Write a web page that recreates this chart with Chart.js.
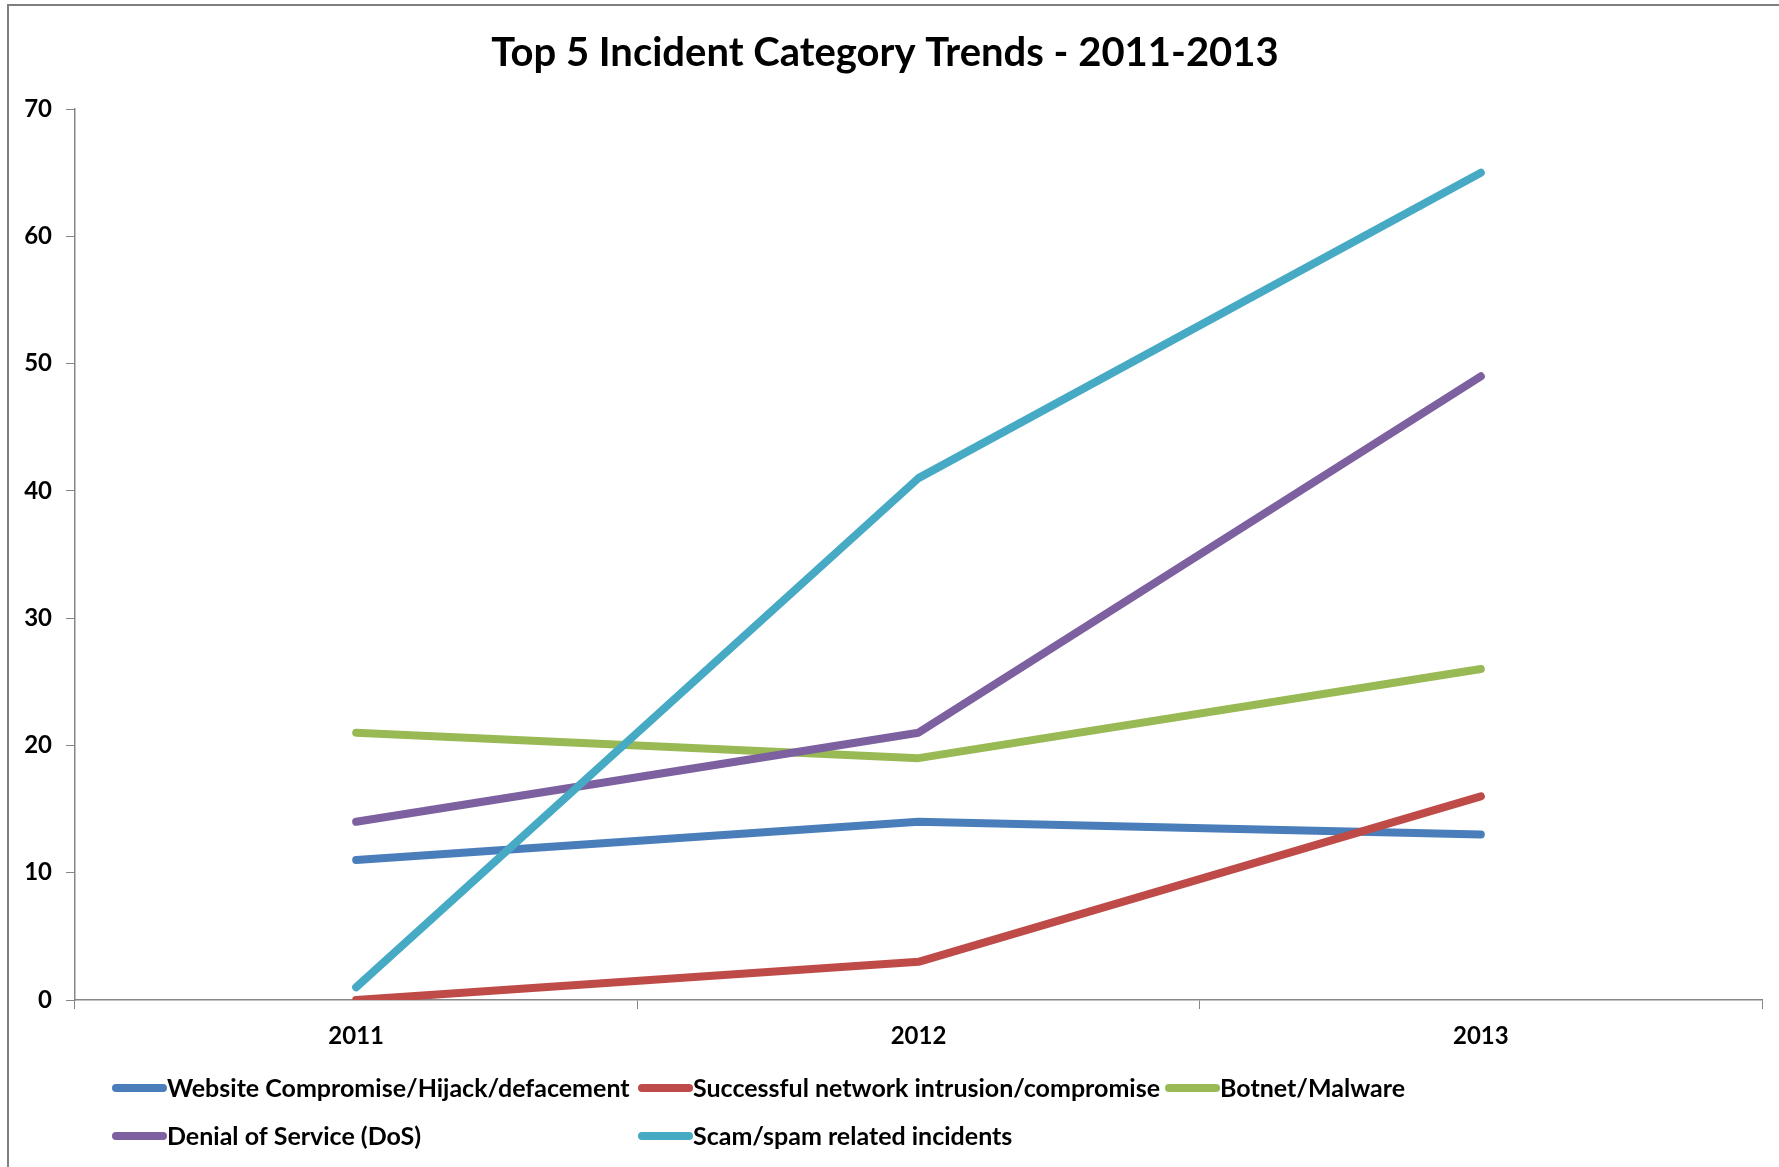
<!DOCTYPE html>
<html>
<head>
<meta charset="utf-8">
<title>Top 5 Incident Category Trends - 2011-2013</title>
<script src="https://cdn.jsdelivr.net/npm/chart.js@4"></script>
<style>
  html, body { margin: 0; padding: 0; background: #fff; }
  #wrap { position: relative; width: 1779px; height: 1167px; }
</style>
</head>
<body>
<div id="wrap"><canvas id="grafico"></canvas></div>
<script>
// dados
const years = ['2011', '2012', '2013'];
const websiteCompromise = [11, 14, 13];
const networkIntrusion = [0, 3, 16];
const botnetMalware = [21, 19, 26];
const denialOfService = [14, 21, 49];
const scamSpam = [1, 41, 65];
const seriesNames = [
    'Website Compromise/Hijack/defacement',
    'Successful network intrusion/compromise',
    'Botnet/Malware',
    'Denial of Service (DoS)',
    'Scam/spam related incidents'
];
const seriesColors = ['#4A7EBB', '#BE4B48', '#98B954', '#7D60A0', '#46AAC5'];
const yTicks = [0, 10, 20, 30, 40, 50, 60, 70];

const FONT = 'Lato, "Open Sans", sans-serif';
const axisGray = '#868686';

const seriesValues = [websiteCompromise, networkIntrusion, botnetMalware, denialOfService, scamSpam];

// moldura do gráfico (só borda esquerda e superior visíveis)
const frame = {
    id: 'frame',
    beforeDraw(chart) {
        const c = chart.ctx;
        c.save();
        c.strokeStyle = '#7f7f7f';
        c.lineWidth = 2;
        c.beginPath();
        c.moveTo(8, chart.height);
        c.lineTo(8, 5);
        c.lineTo(chart.width, 5);
        c.stroke();
        c.restore();
    }
};

// legenda em colunas, estilo Excel
const excelLegend = {
    id: 'excelLegend',
    afterDraw(chart) {
        const c = chart.ctx;
        const cols = [113, 639, 1166];
        const rows = [1088, 1136];
        c.save();
        c.font = 'bold 25px ' + FONT;
        c.textBaseline = 'middle';
        c.textAlign = 'left';
        chart.data.datasets.forEach((ds, i) => {
            const x = cols[i % 3];
            const y = rows[Math.floor(i / 3)];
            c.strokeStyle = ds.borderColor;
            c.lineWidth = 8;
            c.lineCap = 'round';
            c.beginPath();
            c.moveTo(x + 3, y);
            c.lineTo(x + 50, y);
            c.stroke();
            c.fillStyle = '#000';
            c.fillText(ds.label, x + 54, y + 1);
        });
        c.restore();
    }
};

new Chart(document.getElementById('grafico'), {
    type: 'line',
    data: {
        labels: years,
        datasets: seriesValues.map((vals, i) => ({
            label: seriesNames[i],
            data: vals,
            borderColor: seriesColors[i],
            backgroundColor: seriesColors[i],
            borderWidth: 8,
            borderCapStyle: 'round',
            borderJoinStyle: 'round',
            pointRadius: 0,
            tension: 0,
            order: seriesValues.length - i
        }))
    },
    options: {
        responsive: true,
        maintainAspectRatio: false,
        animation: false,
        layout: { padding: { left: 8, right: 17, top: 0, bottom: 107 } },
        plugins: {
            legend: { display: false },
            tooltip: { enabled: false },
            title: {
                display: true,
                text: 'Top 5 Incident Category Trends - 2011-2013',
                color: '#000',
                font: { family: FONT, size: 40, weight: 'bold', lineHeight: 1.2 },
                padding: { top: 29, bottom: 32 }
            }
        },
        scales: {
            x: {
                offset: true,
                afterFit(scale) { scale.height = 60; },
                grid: {
                    display: true,
                    offset: true,
                    drawOnChartArea: false,
                    drawTicks: true,
                    tickLength: 9,
                    color: axisGray
                },
                border: { color: axisGray, width: 1.5 },
                ticks: {
                    color: '#000',
                    padding: 13,
                    font: { family: FONT, size: 24, weight: 'bold' }
                }
            },
            y: {
                min: 0,
                max: 70,
                afterFit(scale) { scale.width = 67; },
                afterBuildTicks(scale) { scale.ticks = yTicks.map(v => ({ value: v })); },
                grid: {
                    display: true,
                    drawOnChartArea: false,
                    drawTicks: true,
                    tickLength: 9,
                    color: axisGray
                },
                border: { color: axisGray, width: 1.5 },
                ticks: {
                    color: '#000',
                    padding: 14,
                    font: { family: FONT, size: 24, weight: 'bold' }
                }
            }
        }
    },
    plugins: [frame, excelLegend]
});
</script>
</body>
</html>
